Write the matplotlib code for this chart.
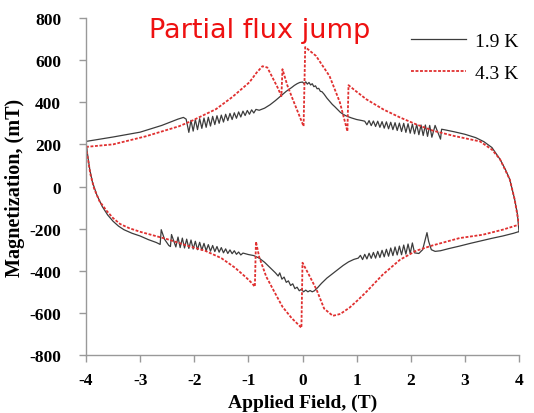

# magnetization loops of the sample at 1.9 K and 4.3 K
# values (flux jumps on the 1.9 K curve)

import numpy as np
import matplotlib
matplotlib.use("Agg")
import matplotlib.pyplot as plt

# 1.9 K, upper branch, field from -4 T to +4 T
b19_up_field = [-4.00, -3.50, -3.00, -2.60, -2.30, -2.20, -2.15,
    -2.10, -2.06, -2.02, -1.98, -1.94, -1.90, -1.86, -1.82, -1.78, -1.74,
    -1.70, -1.66, -1.62, -1.58, -1.54, -1.50, -1.46, -1.42, -1.38, -1.34,
    -1.30, -1.26, -1.22, -1.18, -1.14, -1.10, -1.06, -1.02, -0.98, -0.94,
    -0.90, -0.86,
    -0.80, -0.70, -0.60, -0.50, -0.40, -0.30, -0.20, -0.15, -0.10, -0.05,
    0.00, 0.03, 0.06, 0.09, 0.12, 0.15, 0.18, 0.21, 0.24, 0.27, 0.30,
    0.33, 0.36, 0.40, 0.45, 0.50, 0.55, 0.60, 0.65, 0.70, 0.75, 0.80,
    0.90, 1.00, 1.10, 1.15,
    1.19, 1.23, 1.27, 1.31, 1.35, 1.39, 1.43, 1.47, 1.51, 1.55, 1.59,
    1.63, 1.67, 1.71, 1.75, 1.79, 1.83, 1.87, 1.91, 1.95, 1.99, 2.03,
    2.07, 2.11, 2.15, 2.19, 2.23, 2.27, 2.31, 2.35, 2.39,
    2.45, 2.55, 2.57, 2.65, 2.80, 3.00, 3.20, 3.35, 3.50, 3.65, 3.75,
    3.83, 3.92, 3.97, 4.00]
b19_up_mag = [214, 235, 258, 290, 320, 328, 320,
    257, 314, 263, 318, 270, 322, 276, 325, 281, 329,
    287, 333, 294, 336, 300, 339, 306, 343, 313, 347,
    318, 350, 324, 354, 330, 358, 337, 361, 343, 364,
    349, 366,
    362, 372, 388, 408, 430, 452, 470, 480, 488, 494,
    496, 488, 497, 486, 494, 482, 488, 474, 478, 464, 466,
    452, 450, 438, 420, 405, 390, 378, 365, 352, 343, 336,
    326, 318, 313, 310,
    293, 313, 289, 311, 285, 310, 281, 308, 277, 307, 274,
    305, 270, 303, 266, 301, 261, 300, 257, 298, 253, 296,
    250, 294, 246, 292, 242, 292, 238, 290, 234,
    290, 225, 272, 268, 260, 248, 232, 213, 185, 129, 80,
    33, -62, -130, -214]

# 1.9 K, lower branch, field from -4 T to +4 T
b19_low_field = [-4.00, -3.97, -3.93, -3.88, -3.80, -3.70, -3.60, -3.50,
    -3.40, -3.30, -3.15, -3.00, -2.85, -2.70, -2.63, -2.61, -2.55, -2.47,
    -2.44, -2.42, -2.37,
    -2.34, -2.30, -2.26, -2.22, -2.18, -2.14, -2.10, -2.06, -2.02, -1.98,
    -1.94, -1.90, -1.86, -1.82, -1.78, -1.74, -1.70, -1.66, -1.62, -1.58,
    -1.54, -1.50, -1.46, -1.42, -1.38, -1.34, -1.30, -1.26, -1.22, -1.18,
    -1.14, -1.10,
    -1.00, -0.90, -0.80, -0.70, -0.60, -0.50, -0.45, -0.42, -0.38, -0.34,
    -0.30, -0.26, -0.22, -0.18, -0.14, -0.10, -0.06, -0.02, 0.02, 0.06,
    0.10, 0.14, 0.18, 0.22, 0.28, 0.35, 0.45, 0.55, 0.65, 0.75, 0.85,
    0.95, 1.03,
    1.07, 1.11, 1.15, 1.19, 1.23, 1.27, 1.31, 1.35, 1.39, 1.43, 1.47,
    1.51, 1.55, 1.59, 1.63, 1.67, 1.71, 1.75, 1.79, 1.83, 1.87, 1.91,
    1.95, 1.99, 2.03, 2.07,
    2.15, 2.22, 2.27, 2.30, 2.33, 2.38, 2.45, 2.55, 2.70, 2.90, 3.10,
    3.30, 3.50, 3.70, 3.90, 4.00]
b19_low_mag = [214, 150, 80, 20, -40, -95, -135, -165,
    -188, -205, -222, -235, -252, -266, -275, -205, -250, -280,
    -285, -228, -265,
    -287, -240, -290, -245, -292, -250, -294, -254, -297, -260,
    -300, -265, -302, -270, -305, -276, -307, -280, -309, -285,
    -312, -290, -315, -296, -318, -301, -319, -305, -322, -311,
    -325, -316,
    -323, -328, -340, -360, -385, -410, -425, -410, -440, -430,
    -455, -448, -470, -462, -485, -478, -495, -488, -500, -492,
    -500, -494, -500, -495, -480, -460, -435, -415, -395, -375, -358,
    -346, -340,
    -327, -347, -322, -344, -317, -341, -313, -340, -308, -337, -303,
    -334, -298, -331, -292, -328, -287, -325, -283, -324, -278, -321,
    -273, -318, -268, -315,
    -318, -300, -250, -219, -260, -300, -308, -305, -295, -283, -270,
    -258, -246, -235, -222, -214]

# 4.3 K, upper branch
b43_up_field = [-4.00, -3.50, -2.90, -2.28, -2.06, -1.60, -1.30, -0.98,
    -0.85, -0.74, -0.65, -0.55, -0.46, -0.39, -0.37, -0.28, -0.18, -0.08,
    0.02, 0.05, 0.25, 0.50, 0.69, 0.83, 0.85, 1.00, 1.18, 1.50, 1.80,
    2.10, 2.41, 2.80, 3.28, 3.50, 3.65, 3.83, 3.92, 4.00]
b43_up_mag = [188, 200, 238, 286, 310, 367, 424, 495,
    540, 571, 565, 515, 470, 429, 557, 480, 414, 350,
    286, 662, 620, 524, 400, 262, 481, 450, 414, 365, 328,
    295, 265, 240, 214, 175, 129, 33, -62, -181]

# 4.3 K, lower branch
b43_low_field = [-4.00, -3.97, -3.92, -3.85, -3.75, -3.62, -3.50, -3.37,
    -3.20, -3.00, -2.50, -2.09, -1.80, -1.50, -1.25, -1.05, -0.93, -0.88,
    -0.86, -0.80, -0.67, -0.52, -0.37, -0.20, -0.08, -0.02, 0.00, 0.10,
    0.26, 0.40, 0.56, 0.70, 0.87, 1.02, 1.18, 1.48, 1.80, 2.10, 2.40,
    2.90, 3.33, 3.70, 4.00]
b43_low_mag = [188, 140, 60, -10, -70, -115, -150, -178,
    -198, -215, -250, -284, -305, -340, -385, -430, -460, -476,
    -262, -335, -428, -500, -571, -625, -655, -671, -362, -410,
    -490, -580, -614, -605, -575, -540, -500, -419, -348, -305, -280,
    -245, -229, -205, -181]

xticks = [-4, -3, -2, -1, 0, 1, 2, 3, 4]
yticks = [-800, -600, -400, -200, 0, 200, 400, 600, 800]

serif = "Liberation Serif"
W, H = 534, 414
fig = plt.figure(figsize=(W / 100, H / 100), dpi=100)
ax = fig.add_axes([86 / W, 1 - 356 / H, (519 - 86) / W, (356 - 19) / H])

black = "#3c3c3c"
red = "#e03030"
ax.plot(b19_up_field, b19_up_mag, color=black, lw=0.9, label="1.9 K")
ax.plot(b19_low_field, b19_low_mag, color=black, lw=0.9)
ax.plot(b43_up_field, b43_up_mag, color=red, lw=1.3,
        linestyle=(0, (1.6, 0.9)), label="4.3 K")
ax.plot(b43_low_field, b43_low_mag, color=red, lw=1.3,
        linestyle=(0, (1.6, 0.9)))

ax.set_xlim(-4, 4)
ax.set_ylim(-800, 800)
ax.set_xticks(xticks)
ax.set_yticks(yticks)
ax.set_xticklabels([str(t) for t in xticks], fontfamily=serif,
                   fontweight="bold", fontsize=12.5)
ax.set_yticklabels([str(t) for t in yticks], fontfamily=serif,
                   fontweight="bold", fontsize=12.5)
ax.tick_params(axis="x", direction="out", length=5, width=1,
               color="#999999", pad=7)
ax.tick_params(axis="y", direction="out", length=5, width=1,
               color="#999999", pad=13)
for s in ["top", "right"]:
    ax.spines[s].set_visible(False)
for s in ["left", "bottom"]:
    ax.spines[s].set_color("#999999")
    ax.spines[s].set_linewidth(1.0)

ax.set_xlabel("Applied Field, (T)", fontfamily=serif, fontweight="bold",
              fontsize=14, labelpad=4)
ax.set_ylabel("Magnetization, (mT)", fontfamily=serif, fontweight="bold",
              fontsize=14.5, labelpad=3)

leg = ax.legend(loc="upper right", bbox_to_anchor=(1.04, 1.01), frameon=False,
                handlelength=2.8, handletextpad=0.5, labelspacing=0.75,
                prop={"family": serif, "size": 14})

fig.text(260 / W, 1 - 31 / H, "Partial flux jump", color="#ee1111",
         fontsize=19.5, ha="center", va="center", fontfamily="DejaVu Sans")

fig.savefig("out.png", dpi=100)
